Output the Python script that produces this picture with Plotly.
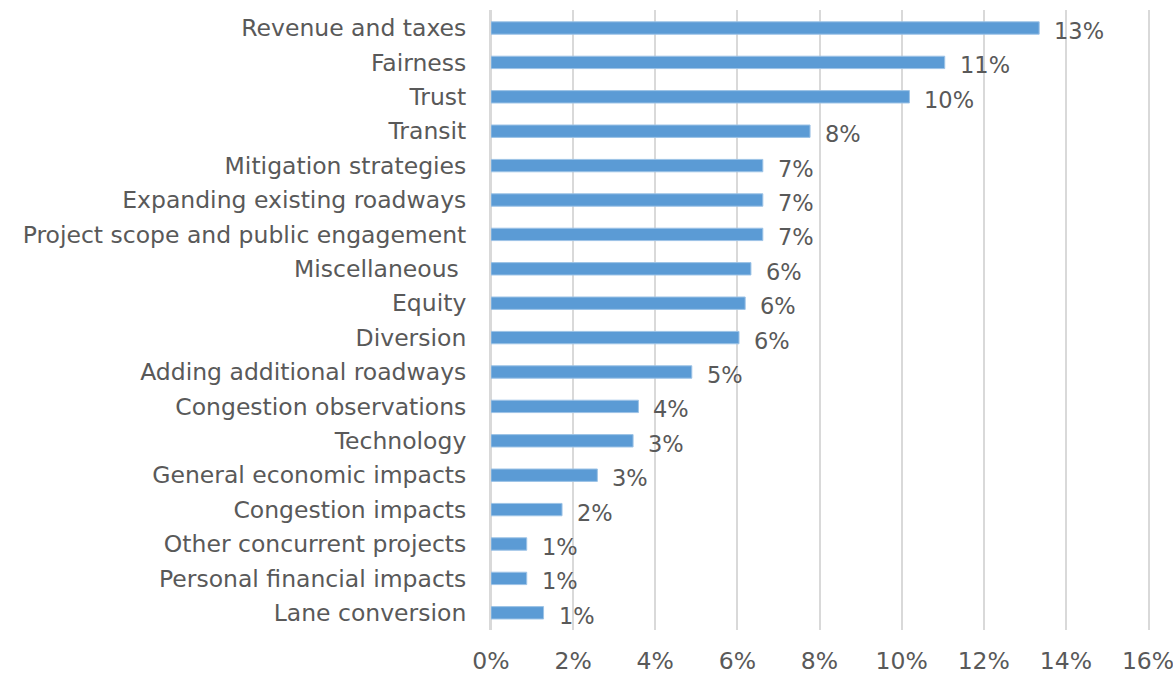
import plotly.graph_objects as go

CATEGORIES = [
    "Revenue and taxes",
    "Fairness",
    "Trust",
    "Transit",
    "Mitigation strategies",
    "Expanding existing roadways",
    "Project scope and public engagement",
    "Miscellaneous\u00a0",
    "Equity",
    "Diversion",
    "Adding additional roadways",
    "Congestion observations",
    "Technology",
    "General economic impacts",
    "Congestion impacts",
    "Other concurrent projects",
    "Personal financial impacts",
    "Lane conversion",
]
SHARES = [
    0.1335, 0.1105, 0.1019, 0.0777, 0.0662, 0.0662, 0.0662, 0.0633, 0.0619,
    0.0604, 0.0489, 0.0359, 0.0346, 0.0259, 0.0173, 0.0087, 0.0087, 0.0128,
]
X_TICKS = [0, 0.02, 0.04, 0.06, 0.08, 0.10, 0.12, 0.14, 0.16]

FONT = "'DejaVu Sans', sans-serif"
TEXT_GREY = "#595959"
GRID = "#d9d9d9"

fig = go.Figure(
    go.Bar(
        x=SHARES,
        y=CATEGORIES,
        orientation="h",
        marker_color="#5b9bd5",
        marker_line=dict(color="#9dc3e6", width=1),
    )
)

# value labels sit a little to the right of each bar end
for cat, val in zip(CATEGORIES, SHARES):
    fig.add_annotation(
        x=val,
        y=cat,
        text=f"{val:.0%}",
        showarrow=False,
        xanchor="left",
        xshift=13,
        yshift=-3,
        font=dict(family=FONT, size=22.5, color=TEXT_GREY),
    )

fig.update_layout(
    width=1173,
    height=675,
    plot_bgcolor="white",
    paper_bgcolor="white",
    bargap=0.64,
    showlegend=False,
    font=dict(family=FONT, size=23.5, color=TEXT_GREY),
    margin=dict(l=491, r=25, t=10, b=45),
    xaxis=dict(
        range=[0, 0.16],
        tickvals=X_TICKS,
        tickformat=".0%",
        showgrid=True,
        gridcolor=GRID,
        gridwidth=2,
        zeroline=True,
        zerolinecolor=GRID,
        zerolinewidth=2,
        ticks="outside",
        ticklen=10,
        tickcolor="rgba(0,0,0,0)",
        ticklabeloverflow="allow",
        automargin=False,
        fixedrange=True,
    ),
    yaxis=dict(
        autorange="reversed",
        ticks="outside",
        ticklen=18,
        tickcolor="rgba(0,0,0,0)",
        showgrid=False,
        # mirrored line gives the 16% gridline at the right edge
        showline=True,
        mirror=True,
        linecolor=GRID,
        linewidth=2,
        automargin=False,
        fixedrange=True,
    ),
)

# drop the default page margin so the figure fills the window exactly
fig.write_html(
    "out.html",
    config={"displayModeBar": False},
    post_script="document.body.style.margin = '0';",
)
